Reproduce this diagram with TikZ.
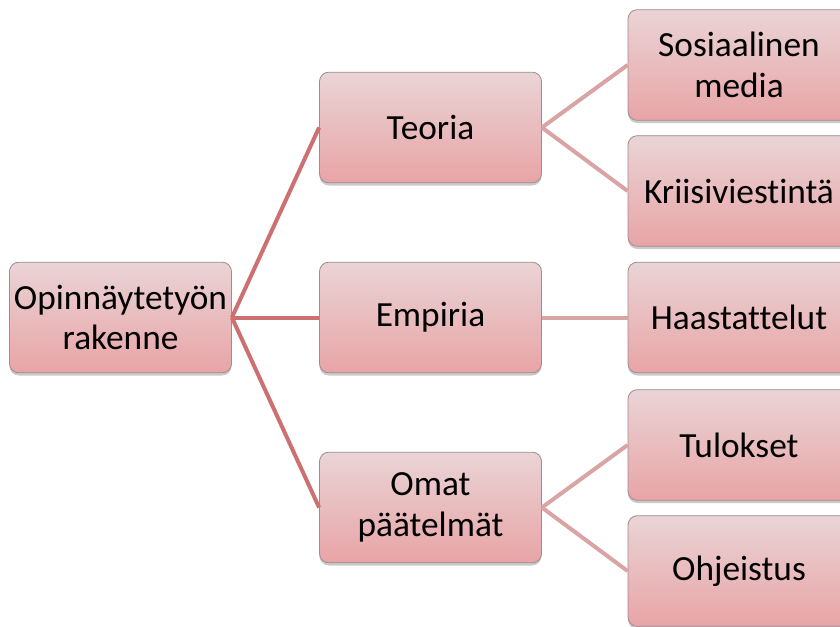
\documentclass[tikz,border=0pt]{standalone}
\usepackage{fontspec}
\setmainfont[Ligatures={NoCommon,NoRare}]{Carlito}
\usetikzlibrary{shadows}
\definecolor{topc}{RGB}{234,212,214}
\definecolor{botc}{RGB}{232,164,166}
\definecolor{edgec}{RGB}{160,140,140}
\definecolor{linea}{RGB}{204,112,114}
\definecolor{lineb}{RGB}{218,164,165}
\tikzset{
  px/.style={x=0.75pt,y=-0.75pt},
  boxnode/.style={draw=edgec, line width=0.6pt, rounded corners=7pt,
    top color=topc, bottom color=botc, minimum width=166.5pt, minimum height=83pt,
    align=center, font=\fontsize{26.5}{30.5}\selectfont, inner sep=0pt,
    drop shadow={shadow xshift=0pt, shadow yshift=-2pt, opacity=0.35, fill=black!60}},
  conna/.style={draw=linea, line width=3pt},
  connb/.style={draw=lineb, line width=3pt}
}
\begin{document}
\begin{tikzpicture}[px]
\useasboundingbox (0,0) rectangle (840,626);
\begin{scope}
\clip (0,0) rectangle (840,626);
\node[boxnode] (root) at (120.5,317.5) {Opinnäytetyön\\rakenne};
\node[boxnode] (teo) at (430.5,127.5) {Teoria};
\node[boxnode] (emp) at (430.5,317.5) {Empiria};
\node[boxnode] (omat) at (430.5,507.5) {Omat\\päätelmät};
\node[boxnode] (sos) at (739,65) {Sosiaalinen\\media};
\node[boxnode] (kri) at (739,191) {Kriisiviestintä};
\node[boxnode] (haa) at (739,317.5) {Haastattelut};
\node[boxnode] (tul) at (739,445) {Tulokset};
\node[boxnode] (ohj) at (739,571) {Ohjeistus};
\draw[conna] (root.east) -- (teo.west);
\draw[conna] (root.east) -- (emp.west);
\draw[conna] (root.east) -- (omat.west);
\draw[connb] (teo.east) -- (sos.west);
\draw[connb] (teo.east) -- (kri.west);
\draw[connb] (emp.east) -- (haa.west);
\draw[connb] (omat.east) -- (tul.west);
\draw[connb] (omat.east) -- (ohj.west);
\end{scope}
\end{tikzpicture}
\end{document}
